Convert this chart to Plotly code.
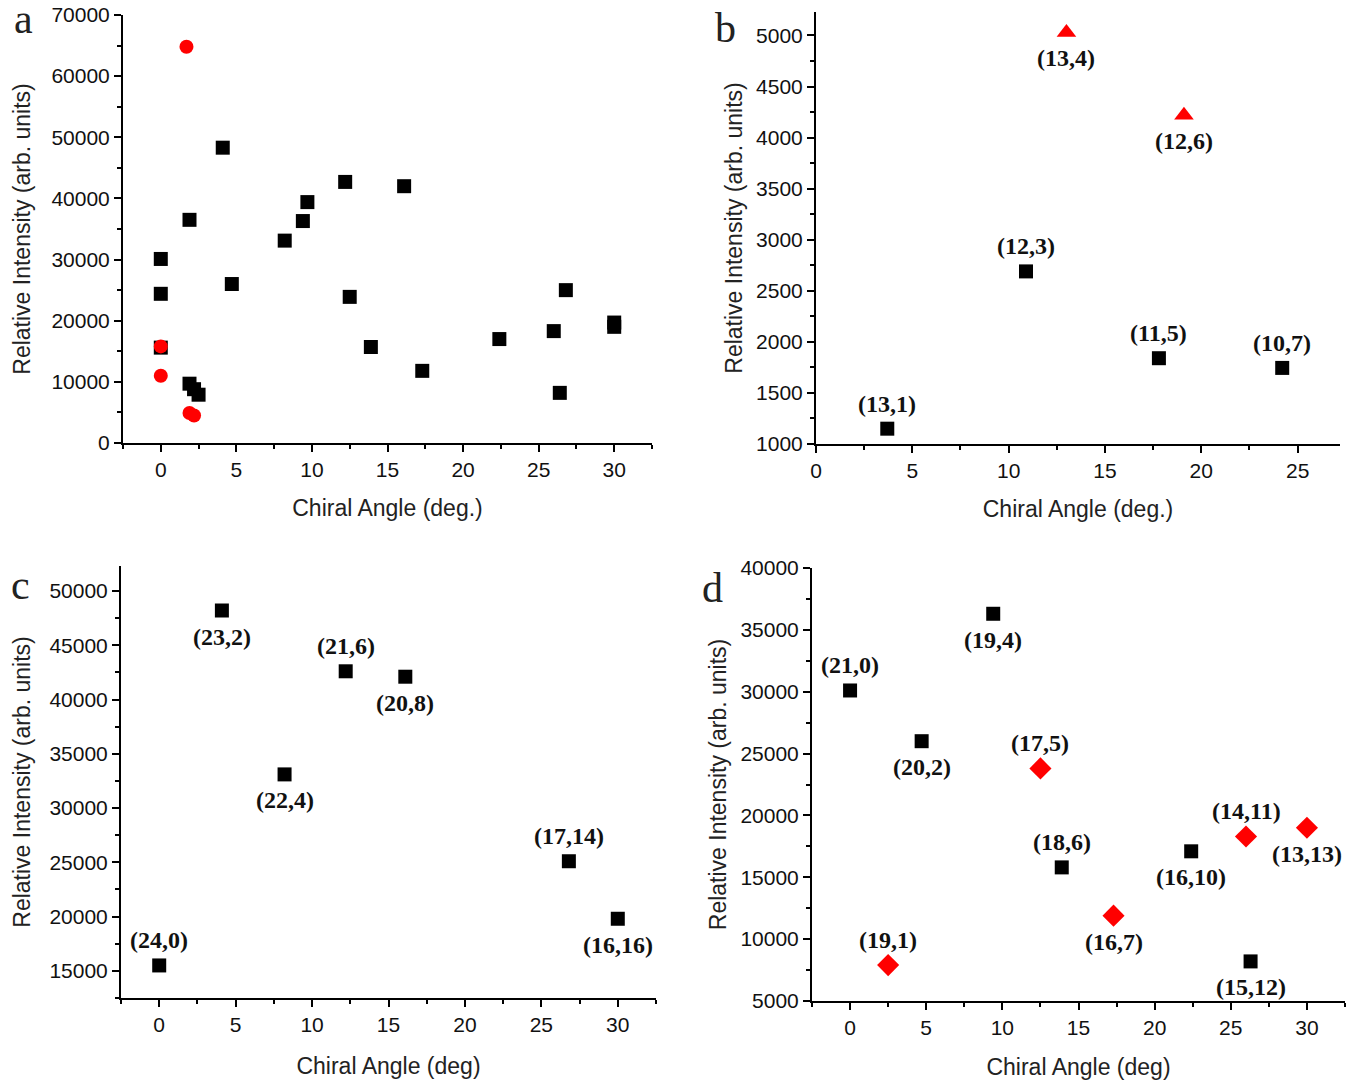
import plotly.graph_objects as go

# ---------------- data ----------------
# Panel a
a_sq_x = [0, 0, 0, 4.1, 1.9, 4.7, 8.2, 9.4, 9.7, 12.2, 12.5, 13.9, 16.1, 17.3, 22.4, 26.0, 26.4, 26.8, 30, 30, 1.9, 2.2, 2.5]
a_sq_y = [30100, 24400, 15600, 48300, 36500, 26000, 33100, 36300, 39400, 42700, 23900, 15700, 42000, 11800, 17000, 18300, 8200, 25000, 19700, 19000, 9700, 8800, 7900]
a_ci_x = [1.7, 0, 0, 1.9, 2.2]
a_ci_y = [64800, 15800, 11000, 4900, 4500]

# Panel b
b_sq_x = [3.7, 10.9, 17.8, 24.2]
b_sq_y = [1150, 2690, 1840, 1745]
b_sq_lab = ["(13,1)", "(12,3)", "(11,5)", "(10,7)"]
b_sq_pos = ["above", "above", "above", "above"]
b_tr_x = [13.0, 19.1]
b_tr_y = [5030, 4220]
b_tr_lab = ["(13,4)", "(12,6)"]
b_tr_pos = ["below", "below"]

# Panel c
c_x = [0, 4.1, 8.2, 12.2, 16.1, 26.8, 30]
c_y = [15500, 48200, 33100, 42600, 42100, 25100, 19800]
c_lab = ["(24,0)", "(23,2)", "(22,4)", "(21,6)", "(20,8)", "(17,14)", "(16,16)"]
c_pos = ["above", "below", "below", "above", "below", "above", "below"]

# Panel d
d_sq_x = [0, 4.7, 9.4, 13.9, 22.4, 26.3]
d_sq_y = [30100, 26000, 36300, 15800, 17100, 8200]
d_sq_lab = ["(21,0)", "(20,2)", "(19,4)", "(18,6)", "(16,10)", "(15,12)"]
d_sq_pos = ["above", "below", "below", "above", "below", "below"]
d_di_x = [2.5, 12.5, 17.3, 26.0, 30]
d_di_y = [7900, 23800, 11900, 18300, 19000]
d_di_lab = ["(19,1)", "(17,5)", "(16,7)", "(14,11)", "(13,13)"]
d_di_pos = ["above", "above", "below", "above", "below"]

# ---------------- layout helpers ----------------
W, H = 1367, 1086
OX, OY = 8, 8  # page body margin offset
SANS = "Arial, Liberation Sans, sans-serif"
SERIF = "Times New Roman, Liberation Serif, serif"


def dom_x(x0, x1):
    return [(x0 - OX) / W, (x1 - OX) / W]


def dom_y(y0, y1):
    return [1 - (y1 - OY) / H, 1 - (y0 - OY) / H]


MINOR = dict(ticklen=4, tickwidth=2, ticks="outside", tickcolor="black")


def axis_common():
    return dict(
        showline=True, linecolor="black", linewidth=2,
        ticks="outside", ticklen=7, tickwidth=2, tickcolor="black",
        showgrid=False, zeroline=False, automargin=False,
        tickformat="d", ticklabeloverflow="allow",
        tickfont=dict(family=SANS, size=21, color="#111"),
        mirror=False,
    )


fig = go.Figure()

sq = dict(symbol="square", size=14, color="black")
red_circle = dict(symbol="circle", size=14, color="red")
red_tri = dict(symbol="triangle-up", size=17, color="red")
red_dia = dict(symbol="diamond", size=17, color="red")

# panel a
fig.add_trace(go.Scatter(x=a_sq_x, y=a_sq_y, mode="markers", marker=sq, xaxis="x", yaxis="y", showlegend=False))
fig.add_trace(go.Scatter(x=a_ci_x, y=a_ci_y, mode="markers", marker=red_circle, xaxis="x", yaxis="y", showlegend=False))
# panel b
fig.add_trace(go.Scatter(x=b_sq_x, y=b_sq_y, mode="markers", marker=sq, xaxis="x2", yaxis="y2", showlegend=False))
fig.add_trace(go.Scatter(x=b_tr_x, y=b_tr_y, mode="markers", marker=red_tri, xaxis="x2", yaxis="y2", showlegend=False))
# panel c
fig.add_trace(go.Scatter(x=c_x, y=c_y, mode="markers", marker=sq, xaxis="x3", yaxis="y3", showlegend=False))
# panel d
fig.add_trace(go.Scatter(x=d_sq_x, y=d_sq_y, mode="markers", marker=sq, xaxis="x4", yaxis="y4", showlegend=False))
fig.add_trace(go.Scatter(x=d_di_x, y=d_di_y, mode="markers", marker=red_dia, xaxis="x4", yaxis="y4", showlegend=False))

annotations = []


def add_labels(xs, ys, labs, pos, xref, yref):
    for x, y, t, p in zip(xs, ys, labs, pos):
        annotations.append(dict(
            x=x, y=y, xref=xref, yref=yref, text="<b>" + t + "</b>", showarrow=False,
            yshift=25 if p == "above" else -26,
            font=dict(family=SERIF, size=24, color="#111"),
        ))


add_labels(b_sq_x, b_sq_y, b_sq_lab, b_sq_pos, "x2", "y2")
add_labels(b_tr_x, b_tr_y, b_tr_lab, b_tr_pos, "x2", "y2")
add_labels(c_x, c_y, c_lab, c_pos, "x3", "y3")
add_labels(d_sq_x, d_sq_y, d_sq_lab, d_sq_pos, "x4", "y4")
add_labels(d_di_x, d_di_y, d_di_lab, d_di_pos, "x4", "y4")

# panel letters
for letter, px, py in [("a", 23, 19), ("b", 725, 28), ("c", 20, 585), ("d", 712, 588)]:
    annotations.append(dict(
        x=(px - OX) / W, y=1 - (py - OY) / H, xref="paper", yref="paper", text=letter,
        showarrow=False, xanchor="center", yanchor="middle",
        font=dict(family=SERIF, size=42, color="#222"),
    ))

title_font = dict(family=SANS, size=23, color="#222")
yt = "Relative Intensity (arb. units)"

layout = dict(
    width=W, height=H,
    margin=dict(l=0, r=0, t=0, b=0),
    paper_bgcolor="white", plot_bgcolor="white",
    annotations=annotations,
)

# panel a axes
layout["xaxis"] = dict(axis_common(), domain=dom_x(123, 652), anchor="y", range=[-2.5, 32.5],
                       dtick=5, tick0=0, minor=dict(MINOR, dtick=2.5),
                       title=dict(text="Chiral Angle (deg.)", font=title_font, standoff=20))
layout["yaxis"] = dict(axis_common(), domain=dom_y(15, 443), anchor="x", range=[0, 70000],
                       dtick=10000, minor=dict(MINOR, dtick=5000),
                       title=dict(text=yt, font=title_font, standoff=14))
# panel b axes
layout["xaxis2"] = dict(axis_common(), domain=dom_x(816, 1340), anchor="y2", range=[0, 27.2],
                        dtick=5, tick0=0, minor=dict(MINOR, dtick=2.5),
                        title=dict(text="Chiral Angle (deg.)", font=title_font, standoff=20))
layout["yaxis2"] = dict(axis_common(), domain=dom_y(12, 444), anchor="x2", range=[1000, 5230],
                        dtick=500, tick0=1000, minor=dict(MINOR, dtick=250),
                        title=dict(text=yt, font=title_font, standoff=7))
# panel c axes
layout["xaxis3"] = dict(axis_common(), domain=dom_x(121, 656), anchor="y3", range=[-2.5, 32.5],
                        dtick=5, tick0=0, minor=dict(MINOR, dtick=2.5),
                        title=dict(text="Chiral Angle (deg)", font=title_font, standoff=23))
layout["yaxis3"] = dict(axis_common(), domain=dom_y(566, 998), anchor="x3", range=[12500, 52300],
                        dtick=5000, tick0=0, minor=dict(MINOR, dtick=2500),
                        title=dict(text=yt, font=title_font, standoff=12))
# panel d axes
layout["xaxis4"] = dict(axis_common(), domain=dom_x(812, 1345), anchor="y4", range=[-2.5, 32.5],
                        dtick=5, tick0=0, minor=dict(MINOR, dtick=2.5),
                        title=dict(text="Chiral Angle (deg)", font=title_font, standoff=21))
layout["yaxis4"] = dict(axis_common(), domain=dom_y(568, 1001), anchor="x4", range=[5000, 40000],
                        dtick=5000, tick0=0, minor=dict(MINOR, dtick=2500),
                        title=dict(text=yt, font=title_font, standoff=7))

fig.update_layout(**layout)
fig.write_html("out.html")
